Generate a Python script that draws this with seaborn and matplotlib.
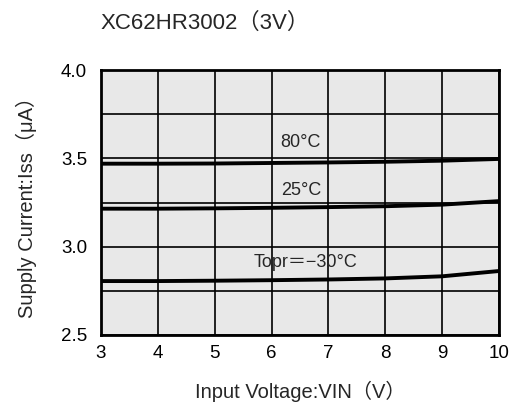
import numpy as np
import pandas as pd
import seaborn as sns
import matplotlib.pyplot as plt

vin = [3, 4, 5, 6, 7, 8, 9, 10]
iss_80 = [3.470, 3.470, 3.471, 3.474, 3.477, 3.481, 3.487, 3.497]
iss_25 = [3.215, 3.215, 3.217, 3.220, 3.224, 3.229, 3.238, 3.258]
iss_m30 = [2.805, 2.805, 2.807, 2.810, 2.814, 2.820, 2.832, 2.862]
temps = ["80", "25", "-30"]

df = pd.DataFrame({
    "vin": vin * 3,
    "iss": iss_80 + iss_25 + iss_m30,
    "temp": [t for t in temps for _ in vin],
})

sns.set_style("white")
fonts = ["Liberation Sans", "Noto Sans CJK JP", "DejaVu Sans"]
plt.rcParams["font.family"] = fonts

fig = plt.figure(figsize=(5.14, 4.15), dpi=100)
ax = fig.add_axes([0.1965, 0.193, 0.7745, 0.638])
ax.set_facecolor("#e8e8e8")

sns.lineplot(data=df, x="vin", y="iss", hue="temp",
             palette=["black"] * 3, linewidth=2.8, legend=False, ax=ax)

ax.set_xlim(3, 10)
ax.set_ylim(2.5, 4.0)
ax.set_xticks(np.arange(3, 11, 1))
ax.set_yticks([2.5, 3.0, 3.5, 4.0])
ax.set_yticklabels(["2.5", "3.0", "3.5", "4.0"])
ax.set_yticks(np.arange(2.5, 4.01, 0.25), minor=True)
ax.grid(True, which="both", color="black", linewidth=1.2)
ax.tick_params(which="both", length=0, labelsize=13.5, colors="black")
ax.tick_params(axis="x", pad=7)
ax.tick_params(axis="y", pad=10)
for s in ax.spines.values():
    s.set_linewidth(2)
    s.set_color("black")

ax.set_xlabel("Input Voltage:VIN（V）", fontsize=14.5, labelpad=14)
ax.set_ylabel("Supply Current:Iss（μA）", fontsize=14.5, labelpad=17)

ax.text(6.5, 3.59, "80°C", fontsize=13, ha="center", va="center")
ax.text(6.52, 3.32, "25°C", fontsize=13, ha="center", va="center")
ax.text(6.6, 2.91, "Topr＝−30°C", fontsize=13, ha="center", va="center")

fig.text(0.195, 0.945, "XC62HR3002（3V）", fontsize=16, ha="left", va="center")

fig.savefig("out.png", dpi=100, facecolor="white")
